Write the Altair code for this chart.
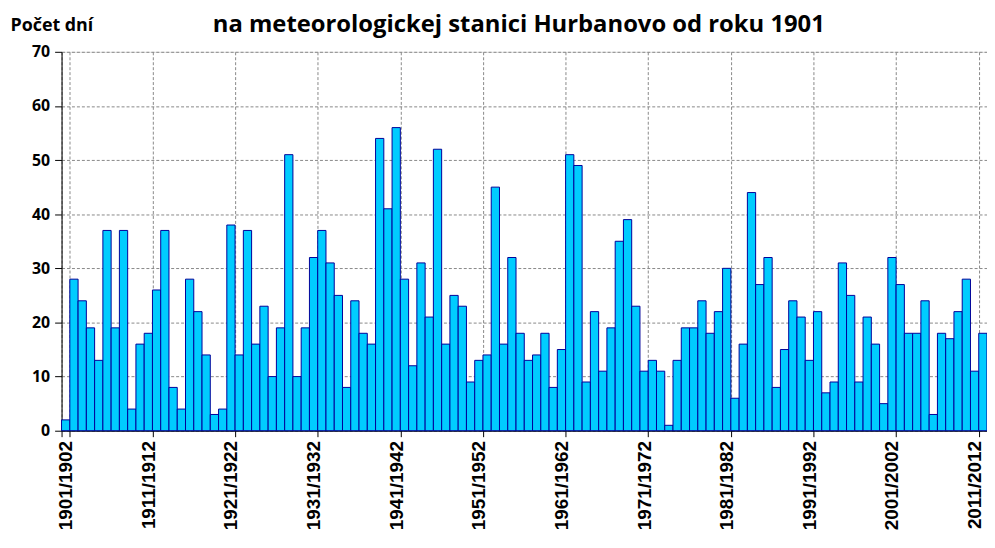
import altair as alt
import pandas as pd

start_years = list(range(1901, 2013))
seasons = [f"{y}/{y + 1}" for y in start_years]

days = [
    2, 28, 24, 19, 13, 37, 19, 37, 4, 16, 18, 26, 37, 8, 4, 28, 22, 14, 3, 4,
    38, 14, 37, 16, 23, 10, 19, 51,
    10, 19, 32, 37, 31, 25, 8, 24, 18, 16, 54, 41, 56, 28, 12, 31, 21, 52, 16,
    25, 23, 9, 13, 14, 45, 16, 32,
    18, 13, 14, 18, 8, 15, 51, 49, 9, 22, 11, 19, 35, 39, 23, 11, 13, 11, 1,
    13, 19, 19, 24, 18, 22, 30, 6, 16,
    44, 27, 32, 8, 15, 24, 21, 13, 22, 7, 9, 31, 25, 9, 21, 16, 5, 32, 27, 18,
    18, 24, 3, 18, 17, 22, 28, 11, 18,
]

label_seasons = seasons[::10]
y_ticks = [0, 10, 20, 30, 40, 50, 60, 70]
title_text = ["na meteorologickej stanici Hurbanovo od roku 1901"]

df = pd.DataFrame({"season": seasons, "days": days})
title_df = pd.DataFrame({"t": title_text})

FONT = "Open Sans"

bars = (
    alt.Chart(df)
    .mark_bar(fill="#00CCFF", stroke="#000099", strokeWidth=1)
    .encode(
        x=alt.X(
            "season:N",
            sort=seasons,
            scale=alt.Scale(paddingInner=0, paddingOuter=0),
            axis=alt.Axis(
                values=label_seasons,
                labelAngle=-90,
                labelAlign="right",
                labelBaseline="middle",
                tickBand="extent",
                title=None,
                grid=True,
                gridDash=[3, 2],
                gridColor="#888888",
                gridWidth=1,
                labelFont="Liberation Sans",
                labelFontSize=19,
                labelFontWeight="bold",
                labelColor="black",
                tickColor="black",
                domainColor="black",
                tickSize=6,
                labelPadding=4,
            ),
        ),
        y=alt.Y(
            "days:Q",
            scale=alt.Scale(domain=[0, 70]),
            axis=alt.Axis(
                values=y_ticks,
                title="Počet dní",
                titleAngle=0,
                titleAlign="left",
                titleBaseline="alphabetic",
                titleX=-52,
                titleY=-21,
                titleFont=FONT,
                titleFontSize=18,
                titleFontWeight="bold",
                titleColor="black",
                grid=True,
                gridDash=[3, 2],
                gridColor="#888888",
                labelFont=FONT,
                labelFontSize=16,
                labelFontWeight="bold",
                labelColor="black",
                tickColor="black",
                domainColor="black",
                tickSize=7,
                labelPadding=5,
            ),
        ),
    )
)

title = (
    alt.Chart(title_df)
    .mark_text(
        font=FONT,
        fontSize=24,
        fontWeight="bold",
        color="black",
        align="center",
        baseline="alphabetic",
    )
    .encode(text="t:N", x=alt.value(461), y=alt.value(-20))
)

chart = (
    alt.layer(bars, title)
    .properties(
        width=933,
        height=382,
        autosize=alt.AutoSizeParams(type="none"),
        padding={"left": 54, "top": 42, "right": 0, "bottom": 108},
    )
    .configure_view(stroke="#444444", strokeWidth=1)
    .configure(background="white")
)

chart.save("out.html", embed_options={"renderer": "svg", "actions": False})
